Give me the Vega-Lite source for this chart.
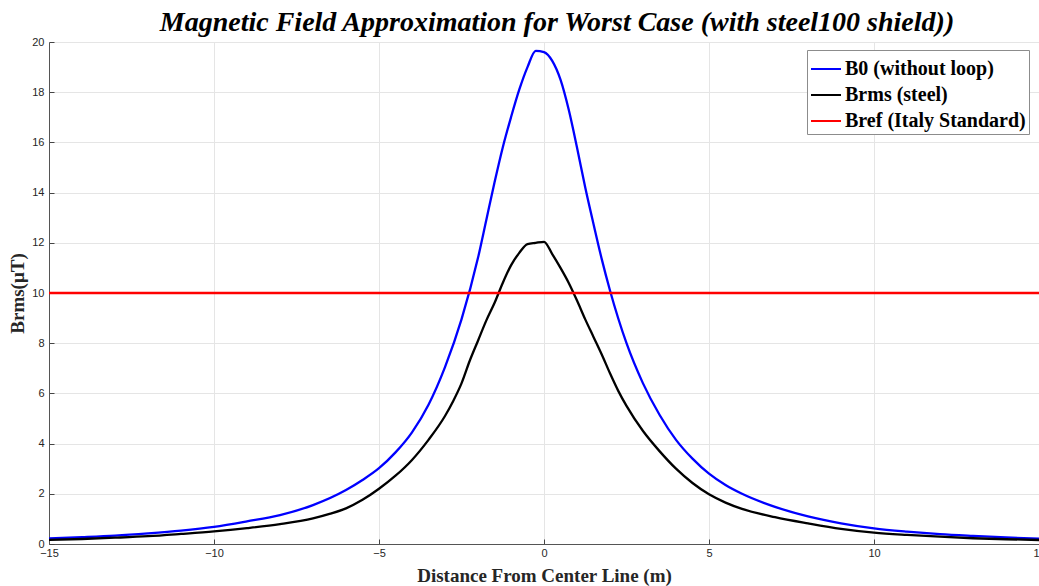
{
  "$schema": "https://vega.github.io/schema/vega-lite/v6.json",
  "width": 990,
  "height": 502,
  "autosize": {"type": "none"},
  "padding": {"left": 49, "top": 42, "right": 0, "bottom": 42},
  "background": "white",
  "title": {
    "text": "Magnetic Field Approximation for Worst Case (with steel100 shield))",
    "font": "Liberation Serif",
    "fontSize": 28,
    "fontStyle": "italic",
    "fontWeight": "bold",
    "color": "#000000",
    "anchor": "middle",
    "dx": 13,
    "dy": 5,
    "offset": 4
  },
  "config": {
    "view": {"stroke": "#d9d9d9", "strokeWidth": 1},
    "axis": {
      "labelFont": "Liberation Sans",
      "labelFontSize": 11,
      "labelColor": "#262626",
      "titleFont": "Liberation Serif",
      "titleFontWeight": "bold",
      "titleFontSize": 19,
      "titleColor": "#262626",
      "gridColor": "#e5e5e5",
      "gridWidth": 1,
      "domainColor": "#555555",
      "tickColor": "#444444"
    }
  },
  "datasets": {
    "curves": [
      {"x": -15, "B": 0.22, "series": "B0 (without loop)"},
      {"x": -14, "B": 0.27, "series": "B0 (without loop)"},
      {"x": -13, "B": 0.33, "series": "B0 (without loop)"},
      {"x": -12, "B": 0.42, "series": "B0 (without loop)"},
      {"x": -11, "B": 0.53, "series": "B0 (without loop)"},
      {"x": -10, "B": 0.68, "series": "B0 (without loop)"},
      {"x": -9, "B": 0.9, "series": "B0 (without loop)"},
      {"x": -8, "B": 1.15, "series": "B0 (without loop)"},
      {"x": -7, "B": 1.55, "series": "B0 (without loop)"},
      {"x": -6, "B": 2.15, "series": "B0 (without loop)"},
      {"x": -5.5, "B": 2.55, "series": "B0 (without loop)"},
      {"x": -5, "B": 3.02, "series": "B0 (without loop)"},
      {"x": -4.5, "B": 3.65, "series": "B0 (without loop)"},
      {"x": -4, "B": 4.45, "series": "B0 (without loop)"},
      {"x": -3.5, "B": 5.55, "series": "B0 (without loop)"},
      {"x": -3, "B": 7.05, "series": "B0 (without loop)"},
      {"x": -2.5, "B": 8.95, "series": "B0 (without loop)"},
      {"x": -2, "B": 11.4, "series": "B0 (without loop)"},
      {"x": -1.75, "B": 12.9, "series": "B0 (without loop)"},
      {"x": -1.5, "B": 14.4, "series": "B0 (without loop)"},
      {"x": -1.25, "B": 15.8, "series": "B0 (without loop)"},
      {"x": -1, "B": 17.0, "series": "B0 (without loop)"},
      {"x": -0.75, "B": 18.1, "series": "B0 (without loop)"},
      {"x": -0.5, "B": 19.0, "series": "B0 (without loop)"},
      {"x": -0.25, "B": 19.65, "series": "B0 (without loop)"},
      {"x": 0, "B": 19.6, "series": "B0 (without loop)"},
      {"x": 0.25, "B": 19.25, "series": "B0 (without loop)"},
      {"x": 0.5, "B": 18.5, "series": "B0 (without loop)"},
      {"x": 0.75, "B": 17.3, "series": "B0 (without loop)"},
      {"x": 1, "B": 15.8, "series": "B0 (without loop)"},
      {"x": 1.25, "B": 14.2, "series": "B0 (without loop)"},
      {"x": 1.5, "B": 12.75, "series": "B0 (without loop)"},
      {"x": 1.75, "B": 11.35, "series": "B0 (without loop)"},
      {"x": 2, "B": 10.1, "series": "B0 (without loop)"},
      {"x": 2.5, "B": 8.0, "series": "B0 (without loop)"},
      {"x": 3, "B": 6.4, "series": "B0 (without loop)"},
      {"x": 3.5, "B": 5.15, "series": "B0 (without loop)"},
      {"x": 4, "B": 4.15, "series": "B0 (without loop)"},
      {"x": 4.5, "B": 3.4, "series": "B0 (without loop)"},
      {"x": 5, "B": 2.8, "series": "B0 (without loop)"},
      {"x": 5.5, "B": 2.35, "series": "B0 (without loop)"},
      {"x": 6, "B": 2.0, "series": "B0 (without loop)"},
      {"x": 7, "B": 1.48, "series": "B0 (without loop)"},
      {"x": 8, "B": 1.1, "series": "B0 (without loop)"},
      {"x": 9, "B": 0.82, "series": "B0 (without loop)"},
      {"x": 10, "B": 0.62, "series": "B0 (without loop)"},
      {"x": 11, "B": 0.49, "series": "B0 (without loop)"},
      {"x": 12, "B": 0.39, "series": "B0 (without loop)"},
      {"x": 13, "B": 0.32, "series": "B0 (without loop)"},
      {"x": 14, "B": 0.26, "series": "B0 (without loop)"},
      {"x": 15, "B": 0.21, "series": "B0 (without loop)"},
      {"x": -15, "B": 0.16, "series": "Brms (steel)"},
      {"x": -14, "B": 0.2, "series": "Brms (steel)"},
      {"x": -13, "B": 0.25, "series": "Brms (steel)"},
      {"x": -12, "B": 0.31, "series": "Brms (steel)"},
      {"x": -11, "B": 0.4, "series": "Brms (steel)"},
      {"x": -10, "B": 0.5, "series": "Brms (steel)"},
      {"x": -9, "B": 0.63, "series": "Brms (steel)"},
      {"x": -8, "B": 0.79, "series": "Brms (steel)"},
      {"x": -7, "B": 1.02, "series": "Brms (steel)"},
      {"x": -6.5, "B": 1.2, "series": "Brms (steel)"},
      {"x": -6, "B": 1.42, "series": "Brms (steel)"},
      {"x": -5.5, "B": 1.76, "series": "Brms (steel)"},
      {"x": -5, "B": 2.2, "series": "Brms (steel)"},
      {"x": -4.5, "B": 2.72, "series": "Brms (steel)"},
      {"x": -4, "B": 3.35, "series": "Brms (steel)"},
      {"x": -3.5, "B": 4.15, "series": "Brms (steel)"},
      {"x": -3, "B": 5.1, "series": "Brms (steel)"},
      {"x": -2.75, "B": 5.7, "series": "Brms (steel)"},
      {"x": -2.5, "B": 6.4, "series": "Brms (steel)"},
      {"x": -2.25, "B": 7.3, "series": "Brms (steel)"},
      {"x": -2, "B": 8.1, "series": "Brms (steel)"},
      {"x": -1.75, "B": 8.9, "series": "Brms (steel)"},
      {"x": -1.5, "B": 9.6, "series": "Brms (steel)"},
      {"x": -1.25, "B": 10.4, "series": "Brms (steel)"},
      {"x": -1, "B": 11.1, "series": "Brms (steel)"},
      {"x": -0.75, "B": 11.6, "series": "Brms (steel)"},
      {"x": -0.5, "B": 11.95, "series": "Brms (steel)"},
      {"x": -0.25, "B": 12.0, "series": "Brms (steel)"},
      {"x": 0, "B": 12.04, "series": "Brms (steel)"},
      {"x": 0.25, "B": 11.55, "series": "Brms (steel)"},
      {"x": 0.5, "B": 11.0, "series": "Brms (steel)"},
      {"x": 0.75, "B": 10.4, "series": "Brms (steel)"},
      {"x": 1, "B": 9.7, "series": "Brms (steel)"},
      {"x": 1.25, "B": 8.95, "series": "Brms (steel)"},
      {"x": 1.5, "B": 8.25, "series": "Brms (steel)"},
      {"x": 1.75, "B": 7.55, "series": "Brms (steel)"},
      {"x": 2, "B": 6.8, "series": "Brms (steel)"},
      {"x": 2.25, "B": 6.1, "series": "Brms (steel)"},
      {"x": 2.5, "B": 5.5, "series": "Brms (steel)"},
      {"x": 3, "B": 4.5, "series": "Brms (steel)"},
      {"x": 3.5, "B": 3.7, "series": "Brms (steel)"},
      {"x": 4, "B": 3.0, "series": "Brms (steel)"},
      {"x": 4.5, "B": 2.43, "series": "Brms (steel)"},
      {"x": 5, "B": 1.98, "series": "Brms (steel)"},
      {"x": 5.5, "B": 1.65, "series": "Brms (steel)"},
      {"x": 6, "B": 1.4, "series": "Brms (steel)"},
      {"x": 7, "B": 1.07, "series": "Brms (steel)"},
      {"x": 8, "B": 0.82, "series": "Brms (steel)"},
      {"x": 9, "B": 0.6, "series": "Brms (steel)"},
      {"x": 10, "B": 0.45, "series": "Brms (steel)"},
      {"x": 11, "B": 0.36, "series": "Brms (steel)"},
      {"x": 12, "B": 0.29, "series": "Brms (steel)"},
      {"x": 13, "B": 0.23, "series": "Brms (steel)"},
      {"x": 14, "B": 0.19, "series": "Brms (steel)"},
      {"x": 15, "B": 0.16, "series": "Brms (steel)"},
      {"x": -15, "B": 10, "series": "Bref (Italy Standard)"},
      {"x": 15, "B": 10, "series": "Bref (Italy Standard)"}
    ]
  },
  "data": {"name": "curves"},
  "layer": [
    {
      "mark": {"type": "line", "strokeWidth": 2.3, "interpolate": "monotone", "clip": true},
      "encoding": {
        "x": {
          "field": "x", "type": "quantitative",
          "scale": {"domain": [-15, 15], "nice": false, "zero": false},
          "axis": {
            "title": "Distance From Center Line (m)",
            "values": [-15, -10, -5, 0, 5, 10, 15],
            "labelFlush": false,
            "labelOverlap": false,
            "tickSize": -5,
            "labelPadding": 8,
            "titlePadding": 8,
            "grid": true
          }
        },
        "y": {
          "field": "B", "type": "quantitative",
          "scale": {"domain": [0, 20], "nice": false},
          "axis": {
            "title": "Brms(μT)",
            "values": [0, 2, 4, 6, 8, 10, 12, 14, 16, 18, 20],
            "tickSize": -5,
            "labelPadding": 10,
            "titlePadding": 4,
            "grid": true
          }
        },
        "color": {
          "field": "series", "type": "nominal",
          "scale": {
            "domain": ["B0 (without loop)", "Brms (steel)", "Bref (Italy Standard)"],
            "range": ["#0000ff", "#000000", "#ff0000"]
          },
          "legend": {
            "title": null,
            "orient": "none",
            "legendX": 758,
            "legendY": 8,
            "symbolType": "stroke",
            "symbolSize": 900,
            "symbolStrokeWidth": 2,
            "labelFont": "Liberation Serif",
            "labelFontWeight": "bold",
            "labelFontSize": 20,
            "labelColor": "#000000",
            "labelOffset": 3,
            "rowPadding": -7,
            "padding": 3,
            "strokeColor": "#8c8c8c",
            "fillColor": "#ffffff",
            "labelLimit": 400
          }
        },
        "detail": {"field": "series"}
      }
    }
  ]
}
